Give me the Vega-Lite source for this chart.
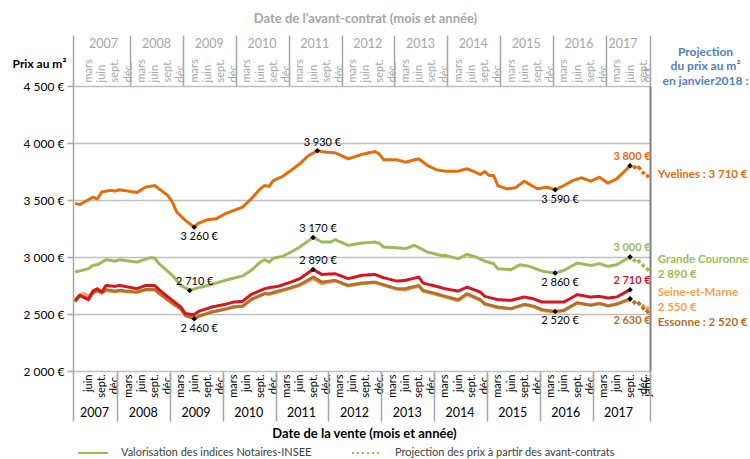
{
"$schema":"https://vega.github.io/schema/vega-lite/v6.json",
"width":577,"height":285,
"autosize":"none",
"padding":{"left":73,"top":86,"right":100,"bottom":88},
"background":"white",
"config":{"font":"Lato","view":{"stroke":null}},
"datasets":{
"series":[
{"date":"2007-03-01","serie":"Seine-et-Marne","prix":2610,"type":"V"},
{"date":"2007-04-01","serie":"Seine-et-Marne","prix":2670,"type":"V"},
{"date":"2007-05-01","serie":"Seine-et-Marne","prix":2680,"type":"V"},
{"date":"2007-06-01","serie":"Seine-et-Marne","prix":2660,"type":"V"},
{"date":"2007-07-01","serie":"Seine-et-Marne","prix":2680,"type":"V"},
{"date":"2007-08-01","serie":"Seine-et-Marne","prix":2700,"type":"V"},
{"date":"2007-09-01","serie":"Seine-et-Marne","prix":2690,"type":"V"},
{"date":"2007-10-01","serie":"Seine-et-Marne","prix":2705,"type":"V"},
{"date":"2007-12-01","serie":"Seine-et-Marne","prix":2695,"type":"V"},
{"date":"2008-01-01","serie":"Seine-et-Marne","prix":2700,"type":"V"},
{"date":"2008-05-01","serie":"Seine-et-Marne","prix":2690,"type":"V"},
{"date":"2008-07-01","serie":"Seine-et-Marne","prix":2710,"type":"V"},
{"date":"2008-09-01","serie":"Seine-et-Marne","prix":2712,"type":"V"},
{"date":"2008-10-01","serie":"Seine-et-Marne","prix":2680,"type":"V"},
{"date":"2009-01-01","serie":"Seine-et-Marne","prix":2590,"type":"V"},
{"date":"2009-03-01","serie":"Seine-et-Marne","prix":2540,"type":"V"},
{"date":"2009-04-01","serie":"Seine-et-Marne","prix":2485,"type":"V"},
{"date":"2009-06-01","serie":"Seine-et-Marne","prix":2462,"type":"V"},
{"date":"2009-07-01","serie":"Seine-et-Marne","prix":2480,"type":"V"},
{"date":"2009-10-01","serie":"Seine-et-Marne","prix":2520,"type":"V"},
{"date":"2010-01-01","serie":"Seine-et-Marne","prix":2545,"type":"V"},
{"date":"2010-03-01","serie":"Seine-et-Marne","prix":2565,"type":"V"},
{"date":"2010-05-01","serie":"Seine-et-Marne","prix":2570,"type":"V"},
{"date":"2010-07-01","serie":"Seine-et-Marne","prix":2630,"type":"V"},
{"date":"2010-10-01","serie":"Seine-et-Marne","prix":2680,"type":"V"},
{"date":"2010-11-01","serie":"Seine-et-Marne","prix":2670,"type":"V"},
{"date":"2011-01-01","serie":"Seine-et-Marne","prix":2690,"type":"V"},
{"date":"2011-04-01","serie":"Seine-et-Marne","prix":2725,"type":"V"},
{"date":"2011-06-01","serie":"Seine-et-Marne","prix":2750,"type":"V"},
{"date":"2011-09-01","serie":"Seine-et-Marne","prix":2810,"type":"V"},
{"date":"2011-11-01","serie":"Seine-et-Marne","prix":2765,"type":"V"},
{"date":"2012-02-01","serie":"Seine-et-Marne","prix":2790,"type":"V"},
{"date":"2012-05-01","serie":"Seine-et-Marne","prix":2745,"type":"V"},
{"date":"2012-08-01","serie":"Seine-et-Marne","prix":2765,"type":"V"},
{"date":"2012-11-01","serie":"Seine-et-Marne","prix":2775,"type":"V"},
{"date":"2013-01-01","serie":"Seine-et-Marne","prix":2750,"type":"V"},
{"date":"2013-04-01","serie":"Seine-et-Marne","prix":2720,"type":"V"},
{"date":"2013-06-01","serie":"Seine-et-Marne","prix":2710,"type":"V"},
{"date":"2013-09-01","serie":"Seine-et-Marne","prix":2745,"type":"V"},
{"date":"2013-10-01","serie":"Seine-et-Marne","prix":2700,"type":"V"},
{"date":"2014-01-01","serie":"Seine-et-Marne","prix":2670,"type":"V"},
{"date":"2014-03-01","serie":"Seine-et-Marne","prix":2650,"type":"V"},
{"date":"2014-06-01","serie":"Seine-et-Marne","prix":2615,"type":"V"},
{"date":"2014-08-01","serie":"Seine-et-Marne","prix":2670,"type":"V"},
{"date":"2014-11-01","serie":"Seine-et-Marne","prix":2620,"type":"V"},
{"date":"2014-12-01","serie":"Seine-et-Marne","prix":2585,"type":"V"},
{"date":"2015-03-01","serie":"Seine-et-Marne","prix":2555,"type":"V"},
{"date":"2015-06-01","serie":"Seine-et-Marne","prix":2545,"type":"V"},
{"date":"2015-09-01","serie":"Seine-et-Marne","prix":2580,"type":"V"},
{"date":"2015-11-01","serie":"Seine-et-Marne","prix":2565,"type":"V"},
{"date":"2016-01-01","serie":"Seine-et-Marne","prix":2530,"type":"V"},
{"date":"2016-04-01","serie":"Seine-et-Marne","prix":2515,"type":"V"},
{"date":"2016-06-01","serie":"Seine-et-Marne","prix":2530,"type":"V"},
{"date":"2016-09-01","serie":"Seine-et-Marne","prix":2595,"type":"V"},
{"date":"2016-12-01","serie":"Seine-et-Marne","prix":2580,"type":"V"},
{"date":"2017-02-01","serie":"Seine-et-Marne","prix":2595,"type":"V"},
{"date":"2017-04-01","serie":"Seine-et-Marne","prix":2575,"type":"V"},
{"date":"2017-06-01","serie":"Seine-et-Marne","prix":2590,"type":"V"},
{"date":"2017-09-01","serie":"Seine-et-Marne","prix":2625,"type":"V"},
{"date":"2007-03-01","serie":"Essonne","prix":2605,"type":"V"},
{"date":"2007-04-01","serie":"Essonne","prix":2663,"type":"V"},
{"date":"2007-06-01","serie":"Essonne","prix":2634,"type":"V"},
{"date":"2007-07-01","serie":"Essonne","prix":2684,"type":"V"},
{"date":"2007-08-01","serie":"Essonne","prix":2707,"type":"V"},
{"date":"2007-09-01","serie":"Essonne","prix":2684,"type":"V"},
{"date":"2007-10-01","serie":"Essonne","prix":2713,"type":"V"},
{"date":"2007-12-01","serie":"Essonne","prix":2701,"type":"V"},
{"date":"2008-01-01","serie":"Essonne","prix":2707,"type":"V"},
{"date":"2008-05-01","serie":"Essonne","prix":2692,"type":"V"},
{"date":"2008-07-01","serie":"Essonne","prix":2716,"type":"V"},
{"date":"2008-09-01","serie":"Essonne","prix":2716,"type":"V"},
{"date":"2008-10-01","serie":"Essonne","prix":2684,"type":"V"},
{"date":"2009-01-01","serie":"Essonne","prix":2596,"type":"V"},
{"date":"2009-03-01","serie":"Essonne","prix":2547,"type":"V"},
{"date":"2009-04-01","serie":"Essonne","prix":2488,"type":"V"},
{"date":"2009-06-01","serie":"Essonne","prix":2459,"type":"V"},
{"date":"2009-07-01","serie":"Essonne","prix":2479,"type":"V"},
{"date":"2009-10-01","serie":"Essonne","prix":2517,"type":"V"},
{"date":"2010-01-01","serie":"Essonne","prix":2541,"type":"V"},
{"date":"2010-03-01","serie":"Essonne","prix":2561,"type":"V"},
{"date":"2010-05-01","serie":"Essonne","prix":2567,"type":"V"},
{"date":"2010-07-01","serie":"Essonne","prix":2626,"type":"V"},
{"date":"2010-10-01","serie":"Essonne","prix":2678,"type":"V"},
{"date":"2010-11-01","serie":"Essonne","prix":2678,"type":"V"},
{"date":"2011-01-01","serie":"Essonne","prix":2701,"type":"V"},
{"date":"2011-04-01","serie":"Essonne","prix":2731,"type":"V"},
{"date":"2011-06-01","serie":"Essonne","prix":2757,"type":"V"},
{"date":"2011-09-01","serie":"Essonne","prix":2824,"type":"V"},
{"date":"2011-11-01","serie":"Essonne","prix":2780,"type":"V"},
{"date":"2012-02-01","serie":"Essonne","prix":2795,"type":"V"},
{"date":"2012-05-01","serie":"Essonne","prix":2751,"type":"V"},
{"date":"2012-08-01","serie":"Essonne","prix":2771,"type":"V"},
{"date":"2012-11-01","serie":"Essonne","prix":2780,"type":"V"},
{"date":"2013-01-01","serie":"Essonne","prix":2757,"type":"V"},
{"date":"2013-04-01","serie":"Essonne","prix":2722,"type":"V"},
{"date":"2013-06-01","serie":"Essonne","prix":2722,"type":"V"},
{"date":"2013-09-01","serie":"Essonne","prix":2751,"type":"V"},
{"date":"2013-10-01","serie":"Essonne","prix":2707,"type":"V"},
{"date":"2014-01-01","serie":"Essonne","prix":2678,"type":"V"},
{"date":"2014-03-01","serie":"Essonne","prix":2655,"type":"V"},
{"date":"2014-06-01","serie":"Essonne","prix":2626,"type":"V"},
{"date":"2014-08-01","serie":"Essonne","prix":2678,"type":"V"},
{"date":"2014-11-01","serie":"Essonne","prix":2626,"type":"V"},
{"date":"2014-12-01","serie":"Essonne","prix":2591,"type":"V"},
{"date":"2015-03-01","serie":"Essonne","prix":2561,"type":"V"},
{"date":"2015-06-01","serie":"Essonne","prix":2547,"type":"V"},
{"date":"2015-09-01","serie":"Essonne","prix":2585,"type":"V"},
{"date":"2015-11-01","serie":"Essonne","prix":2570,"type":"V"},
{"date":"2016-01-01","serie":"Essonne","prix":2538,"type":"V"},
{"date":"2016-04-01","serie":"Essonne","prix":2523,"type":"V"},
{"date":"2016-06-01","serie":"Essonne","prix":2532,"type":"V"},
{"date":"2016-09-01","serie":"Essonne","prix":2599,"type":"V"},
{"date":"2016-12-01","serie":"Essonne","prix":2576,"type":"V"},
{"date":"2017-02-01","serie":"Essonne","prix":2591,"type":"V"},
{"date":"2017-04-01","serie":"Essonne","prix":2570,"type":"V"},
{"date":"2017-06-01","serie":"Essonne","prix":2585,"type":"V"},
{"date":"2017-09-01","serie":"Essonne","prix":2634,"type":"V"},
{"date":"2007-03-01","serie":"Val-d'Oise","prix":2620,"type":"V"},
{"date":"2007-04-01","serie":"Val-d'Oise","prix":2663,"type":"V"},
{"date":"2007-06-01","serie":"Val-d'Oise","prix":2626,"type":"V"},
{"date":"2007-07-01","serie":"Val-d'Oise","prix":2701,"type":"V"},
{"date":"2007-08-01","serie":"Val-d'Oise","prix":2722,"type":"V"},
{"date":"2007-09-01","serie":"Val-d'Oise","prix":2692,"type":"V"},
{"date":"2007-10-01","serie":"Val-d'Oise","prix":2751,"type":"V"},
{"date":"2007-12-01","serie":"Val-d'Oise","prix":2742,"type":"V"},
{"date":"2008-01-01","serie":"Val-d'Oise","prix":2751,"type":"V"},
{"date":"2008-05-01","serie":"Val-d'Oise","prix":2722,"type":"V"},
{"date":"2008-07-01","serie":"Val-d'Oise","prix":2751,"type":"V"},
{"date":"2008-09-01","serie":"Val-d'Oise","prix":2751,"type":"V"},
{"date":"2008-10-01","serie":"Val-d'Oise","prix":2713,"type":"V"},
{"date":"2009-01-01","serie":"Val-d'Oise","prix":2620,"type":"V"},
{"date":"2009-03-01","serie":"Val-d'Oise","prix":2561,"type":"V"},
{"date":"2009-04-01","serie":"Val-d'Oise","prix":2503,"type":"V"},
{"date":"2009-06-01","serie":"Val-d'Oise","prix":2494,"type":"V"},
{"date":"2009-07-01","serie":"Val-d'Oise","prix":2523,"type":"V"},
{"date":"2009-10-01","serie":"Val-d'Oise","prix":2561,"type":"V"},
{"date":"2010-01-01","serie":"Val-d'Oise","prix":2585,"type":"V"},
{"date":"2010-03-01","serie":"Val-d'Oise","prix":2605,"type":"V"},
{"date":"2010-05-01","serie":"Val-d'Oise","prix":2611,"type":"V"},
{"date":"2010-07-01","serie":"Val-d'Oise","prix":2672,"type":"V"},
{"date":"2010-10-01","serie":"Val-d'Oise","prix":2722,"type":"V"},
{"date":"2010-11-01","serie":"Val-d'Oise","prix":2731,"type":"V"},
{"date":"2011-01-01","serie":"Val-d'Oise","prix":2742,"type":"V"},
{"date":"2011-04-01","serie":"Val-d'Oise","prix":2780,"type":"V"},
{"date":"2011-06-01","serie":"Val-d'Oise","prix":2810,"type":"V"},
{"date":"2011-09-01","serie":"Val-d'Oise","prix":2891,"type":"V"},
{"date":"2011-11-01","serie":"Val-d'Oise","prix":2847,"type":"V"},
{"date":"2012-02-01","serie":"Val-d'Oise","prix":2853,"type":"V"},
{"date":"2012-05-01","serie":"Val-d'Oise","prix":2810,"type":"V"},
{"date":"2012-08-01","serie":"Val-d'Oise","prix":2839,"type":"V"},
{"date":"2012-11-01","serie":"Val-d'Oise","prix":2847,"type":"V"},
{"date":"2013-01-01","serie":"Val-d'Oise","prix":2818,"type":"V"},
{"date":"2013-04-01","serie":"Val-d'Oise","prix":2789,"type":"V"},
{"date":"2013-06-01","serie":"Val-d'Oise","prix":2795,"type":"V"},
{"date":"2013-09-01","serie":"Val-d'Oise","prix":2824,"type":"V"},
{"date":"2013-10-01","serie":"Val-d'Oise","prix":2771,"type":"V"},
{"date":"2014-01-01","serie":"Val-d'Oise","prix":2742,"type":"V"},
{"date":"2014-03-01","serie":"Val-d'Oise","prix":2722,"type":"V"},
{"date":"2014-06-01","serie":"Val-d'Oise","prix":2701,"type":"V"},
{"date":"2014-08-01","serie":"Val-d'Oise","prix":2736,"type":"V"},
{"date":"2014-11-01","serie":"Val-d'Oise","prix":2692,"type":"V"},
{"date":"2014-12-01","serie":"Val-d'Oise","prix":2655,"type":"V"},
{"date":"2015-03-01","serie":"Val-d'Oise","prix":2626,"type":"V"},
{"date":"2015-06-01","serie":"Val-d'Oise","prix":2620,"type":"V"},
{"date":"2015-09-01","serie":"Val-d'Oise","prix":2649,"type":"V"},
{"date":"2015-11-01","serie":"Val-d'Oise","prix":2634,"type":"V"},
{"date":"2016-01-01","serie":"Val-d'Oise","prix":2605,"type":"V"},
{"date":"2016-04-01","serie":"Val-d'Oise","prix":2605,"type":"V"},
{"date":"2016-06-01","serie":"Val-d'Oise","prix":2605,"type":"V"},
{"date":"2016-09-01","serie":"Val-d'Oise","prix":2670,"type":"V"},
{"date":"2016-12-01","serie":"Val-d'Oise","prix":2649,"type":"V"},
{"date":"2017-02-01","serie":"Val-d'Oise","prix":2655,"type":"V"},
{"date":"2017-04-01","serie":"Val-d'Oise","prix":2640,"type":"V"},
{"date":"2017-06-01","serie":"Val-d'Oise","prix":2649,"type":"V"},
{"date":"2017-09-01","serie":"Val-d'Oise","prix":2713,"type":"V"},
{"date":"2007-03-01","serie":"Grande Couronne","prix":2868,"type":"V"},
{"date":"2007-06-01","serie":"Grande Couronne","prix":2897,"type":"V"},
{"date":"2007-07-01","serie":"Grande Couronne","prix":2926,"type":"V"},
{"date":"2007-08-01","serie":"Grande Couronne","prix":2932,"type":"V"},
{"date":"2007-10-01","serie":"Grande Couronne","prix":2976,"type":"V"},
{"date":"2007-12-01","serie":"Grande Couronne","prix":2964,"type":"V"},
{"date":"2008-01-01","serie":"Grande Couronne","prix":2976,"type":"V"},
{"date":"2008-05-01","serie":"Grande Couronne","prix":2955,"type":"V"},
{"date":"2008-08-01","serie":"Grande Couronne","prix":2994,"type":"V"},
{"date":"2008-09-01","serie":"Grande Couronne","prix":2990,"type":"V"},
{"date":"2008-10-01","serie":"Grande Couronne","prix":2941,"type":"V"},
{"date":"2009-01-01","serie":"Grande Couronne","prix":2839,"type":"V"},
{"date":"2009-03-01","serie":"Grande Couronne","prix":2751,"type":"V"},
{"date":"2009-05-01","serie":"Grande Couronne","prix":2707,"type":"V"},
{"date":"2009-07-01","serie":"Grande Couronne","prix":2731,"type":"V"},
{"date":"2009-10-01","serie":"Grande Couronne","prix":2760,"type":"V"},
{"date":"2010-01-01","serie":"Grande Couronne","prix":2795,"type":"V"},
{"date":"2010-03-01","serie":"Grande Couronne","prix":2815,"type":"V"},
{"date":"2010-05-01","serie":"Grande Couronne","prix":2833,"type":"V"},
{"date":"2010-07-01","serie":"Grande Couronne","prix":2883,"type":"V"},
{"date":"2010-09-01","serie":"Grande Couronne","prix":2955,"type":"V"},
{"date":"2010-10-01","serie":"Grande Couronne","prix":2976,"type":"V"},
{"date":"2010-11-01","serie":"Grande Couronne","prix":2955,"type":"V"},
{"date":"2010-12-01","serie":"Grande Couronne","prix":2990,"type":"V"},
{"date":"2011-02-01","serie":"Grande Couronne","prix":3005,"type":"V"},
{"date":"2011-04-01","serie":"Grande Couronne","prix":3043,"type":"V"},
{"date":"2011-06-01","serie":"Grande Couronne","prix":3087,"type":"V"},
{"date":"2011-09-01","serie":"Grande Couronne","prix":3172,"type":"V"},
{"date":"2011-11-01","serie":"Grande Couronne","prix":3131,"type":"V"},
{"date":"2012-01-01","serie":"Grande Couronne","prix":3131,"type":"V"},
{"date":"2012-02-01","serie":"Grande Couronne","prix":3152,"type":"V"},
{"date":"2012-05-01","serie":"Grande Couronne","prix":3102,"type":"V"},
{"date":"2012-08-01","serie":"Grande Couronne","prix":3122,"type":"V"},
{"date":"2012-11-01","serie":"Grande Couronne","prix":3131,"type":"V"},
{"date":"2012-12-01","serie":"Grande Couronne","prix":3122,"type":"V"},
{"date":"2013-01-01","serie":"Grande Couronne","prix":3087,"type":"V"},
{"date":"2013-04-01","serie":"Grande Couronne","prix":3081,"type":"V"},
{"date":"2013-06-01","serie":"Grande Couronne","prix":3073,"type":"V"},
{"date":"2013-08-01","serie":"Grande Couronne","prix":3102,"type":"V"},
{"date":"2013-11-01","serie":"Grande Couronne","prix":3043,"type":"V"},
{"date":"2014-02-01","serie":"Grande Couronne","prix":3014,"type":"V"},
{"date":"2014-03-01","serie":"Grande Couronne","prix":3014,"type":"V"},
{"date":"2014-06-01","serie":"Grande Couronne","prix":2985,"type":"V"},
{"date":"2014-08-01","serie":"Grande Couronne","prix":3023,"type":"V"},
{"date":"2014-10-01","serie":"Grande Couronne","prix":2999,"type":"V"},
{"date":"2014-12-01","serie":"Grande Couronne","prix":2964,"type":"V"},
{"date":"2015-02-01","serie":"Grande Couronne","prix":2941,"type":"V"},
{"date":"2015-03-01","serie":"Grande Couronne","prix":2897,"type":"V"},
{"date":"2015-06-01","serie":"Grande Couronne","prix":2889,"type":"V"},
{"date":"2015-08-01","serie":"Grande Couronne","prix":2932,"type":"V"},
{"date":"2015-10-01","serie":"Grande Couronne","prix":2920,"type":"V"},
{"date":"2016-01-01","serie":"Grande Couronne","prix":2876,"type":"V"},
{"date":"2016-04-01","serie":"Grande Couronne","prix":2859,"type":"V"},
{"date":"2016-06-01","serie":"Grande Couronne","prix":2883,"type":"V"},
{"date":"2016-09-01","serie":"Grande Couronne","prix":2947,"type":"V"},
{"date":"2016-12-01","serie":"Grande Couronne","prix":2926,"type":"V"},
{"date":"2017-02-01","serie":"Grande Couronne","prix":2941,"type":"V"},
{"date":"2017-04-01","serie":"Grande Couronne","prix":2918,"type":"V"},
{"date":"2017-06-01","serie":"Grande Couronne","prix":2932,"type":"V"},
{"date":"2017-09-01","serie":"Grande Couronne","prix":3000,"type":"V"},
{"date":"2007-03-01","serie":"Yvelines","prix":3470,"type":"V"},
{"date":"2007-04-01","serie":"Yvelines","prix":3460,"type":"V"},
{"date":"2007-05-01","serie":"Yvelines","prix":3480,"type":"V"},
{"date":"2007-07-01","serie":"Yvelines","prix":3525,"type":"V"},
{"date":"2007-08-01","serie":"Yvelines","prix":3510,"type":"V"},
{"date":"2007-09-01","serie":"Yvelines","prix":3570,"type":"V"},
{"date":"2007-11-01","serie":"Yvelines","prix":3585,"type":"V"},
{"date":"2007-12-01","serie":"Yvelines","prix":3578,"type":"V"},
{"date":"2008-01-01","serie":"Yvelines","prix":3590,"type":"V"},
{"date":"2008-03-01","serie":"Yvelines","prix":3578,"type":"V"},
{"date":"2008-05-01","serie":"Yvelines","prix":3566,"type":"V"},
{"date":"2008-07-01","serie":"Yvelines","prix":3613,"type":"V"},
{"date":"2008-09-01","serie":"Yvelines","prix":3627,"type":"V"},
{"date":"2008-10-01","serie":"Yvelines","prix":3598,"type":"V"},
{"date":"2008-12-01","serie":"Yvelines","prix":3540,"type":"V"},
{"date":"2009-01-01","serie":"Yvelines","prix":3481,"type":"V"},
{"date":"2009-02-01","serie":"Yvelines","prix":3393,"type":"V"},
{"date":"2009-04-01","serie":"Yvelines","prix":3321,"type":"V"},
{"date":"2009-06-01","serie":"Yvelines","prix":3262,"type":"V"},
{"date":"2009-07-01","serie":"Yvelines","prix":3297,"type":"V"},
{"date":"2009-09-01","serie":"Yvelines","prix":3327,"type":"V"},
{"date":"2009-11-01","serie":"Yvelines","prix":3336,"type":"V"},
{"date":"2010-01-01","serie":"Yvelines","prix":3379,"type":"V"},
{"date":"2010-03-01","serie":"Yvelines","prix":3408,"type":"V"},
{"date":"2010-05-01","serie":"Yvelines","prix":3437,"type":"V"},
{"date":"2010-07-01","serie":"Yvelines","prix":3511,"type":"V"},
{"date":"2010-09-01","serie":"Yvelines","prix":3598,"type":"V"},
{"date":"2010-10-01","serie":"Yvelines","prix":3627,"type":"V"},
{"date":"2010-11-01","serie":"Yvelines","prix":3619,"type":"V"},
{"date":"2010-12-01","serie":"Yvelines","prix":3671,"type":"V"},
{"date":"2011-02-01","serie":"Yvelines","prix":3706,"type":"V"},
{"date":"2011-04-01","serie":"Yvelines","prix":3759,"type":"V"},
{"date":"2011-06-01","serie":"Yvelines","prix":3818,"type":"V"},
{"date":"2011-08-01","serie":"Yvelines","prix":3890,"type":"V"},
{"date":"2011-10-01","serie":"Yvelines","prix":3932,"type":"V"},
{"date":"2011-12-01","serie":"Yvelines","prix":3919,"type":"V"},
{"date":"2012-02-01","serie":"Yvelines","prix":3914,"type":"V"},
{"date":"2012-05-01","serie":"Yvelines","prix":3861,"type":"V"},
{"date":"2012-08-01","serie":"Yvelines","prix":3899,"type":"V"},
{"date":"2012-11-01","serie":"Yvelines","prix":3925,"type":"V"},
{"date":"2012-12-01","serie":"Yvelines","prix":3905,"type":"V"},
{"date":"2013-01-01","serie":"Yvelines","prix":3853,"type":"V"},
{"date":"2013-04-01","serie":"Yvelines","prix":3853,"type":"V"},
{"date":"2013-06-01","serie":"Yvelines","prix":3832,"type":"V"},
{"date":"2013-09-01","serie":"Yvelines","prix":3861,"type":"V"},
{"date":"2013-11-01","serie":"Yvelines","prix":3803,"type":"V"},
{"date":"2014-01-01","serie":"Yvelines","prix":3765,"type":"V"},
{"date":"2014-03-01","serie":"Yvelines","prix":3753,"type":"V"},
{"date":"2014-06-01","serie":"Yvelines","prix":3753,"type":"V"},
{"date":"2014-08-01","serie":"Yvelines","prix":3774,"type":"V"},
{"date":"2014-09-01","serie":"Yvelines","prix":3759,"type":"V"},
{"date":"2014-11-01","serie":"Yvelines","prix":3724,"type":"V"},
{"date":"2014-12-01","serie":"Yvelines","prix":3750,"type":"V"},
{"date":"2015-01-01","serie":"Yvelines","prix":3715,"type":"V"},
{"date":"2015-02-01","serie":"Yvelines","prix":3715,"type":"V"},
{"date":"2015-03-01","serie":"Yvelines","prix":3627,"type":"V"},
{"date":"2015-05-01","serie":"Yvelines","prix":3598,"type":"V"},
{"date":"2015-07-01","serie":"Yvelines","prix":3607,"type":"V"},
{"date":"2015-09-01","serie":"Yvelines","prix":3665,"type":"V"},
{"date":"2015-10-01","serie":"Yvelines","prix":3642,"type":"V"},
{"date":"2015-12-01","serie":"Yvelines","prix":3598,"type":"V"},
{"date":"2016-02-01","serie":"Yvelines","prix":3613,"type":"V"},
{"date":"2016-04-01","serie":"Yvelines","prix":3590,"type":"V"},
{"date":"2016-06-01","serie":"Yvelines","prix":3627,"type":"V"},
{"date":"2016-08-01","serie":"Yvelines","prix":3671,"type":"V"},
{"date":"2016-10-01","serie":"Yvelines","prix":3695,"type":"V"},
{"date":"2016-12-01","serie":"Yvelines","prix":3665,"type":"V"},
{"date":"2017-02-01","serie":"Yvelines","prix":3700,"type":"V"},
{"date":"2017-04-01","serie":"Yvelines","prix":3648,"type":"V"},
{"date":"2017-06-01","serie":"Yvelines","prix":3686,"type":"V"},
{"date":"2017-09-01","serie":"Yvelines","prix":3800,"type":"V"},
{"date":"2017-09-01","serie":"Seine-et-Marne","prix":2625,"type":"P"},
{"date":"2017-10-01","serie":"Seine-et-Marne","prix":2605,"type":"P"},
{"date":"2017-11-01","serie":"Seine-et-Marne","prix":2595,"type":"P"},
{"date":"2017-12-01","serie":"Seine-et-Marne","prix":2570,"type":"P"},
{"date":"2018-01-01","serie":"Seine-et-Marne","prix":2550,"type":"P"},
{"date":"2017-09-01","serie":"Essonne","prix":2634,"type":"P"},
{"date":"2017-10-01","serie":"Essonne","prix":2600,"type":"P"},
{"date":"2017-11-01","serie":"Essonne","prix":2592,"type":"P"},
{"date":"2017-12-01","serie":"Essonne","prix":2550,"type":"P"},
{"date":"2018-01-01","serie":"Essonne","prix":2520,"type":"P"},
{"date":"2017-09-01","serie":"Grande Couronne","prix":3000,"type":"P"},
{"date":"2017-10-01","serie":"Grande Couronne","prix":2970,"type":"P"},
{"date":"2017-11-01","serie":"Grande Couronne","prix":2962,"type":"P"},
{"date":"2017-12-01","serie":"Grande Couronne","prix":2925,"type":"P"},
{"date":"2018-01-01","serie":"Grande Couronne","prix":2890,"type":"P"},
{"date":"2017-09-01","serie":"Yvelines","prix":3800,"type":"P"},
{"date":"2017-10-01","serie":"Yvelines","prix":3788,"type":"P"},
{"date":"2017-11-01","serie":"Yvelines","prix":3785,"type":"P"},
{"date":"2017-12-01","serie":"Yvelines","prix":3738,"type":"P"},
{"date":"2018-01-01","serie":"Yvelines","prix":3710,"type":"P"}
],
"annotations":[
{"date":"2009-06-01","serie":"Yvelines","prix":3262,"label":"3 260 €","pos":"bas","groupe":"ext"},
{"date":"2011-10-01","serie":"Yvelines","prix":3932,"label":"3 930 €","pos":"haut","groupe":"ext"},
{"date":"2016-04-01","serie":"Yvelines","prix":3590,"label":"3 590 €","pos":"bas","groupe":"ext"},
{"date":"2017-09-01","serie":"Yvelines","prix":3800,"label":"3 800 €","pos":"haut","groupe":"fin"},
{"date":"2009-05-01","serie":"Grande Couronne","prix":2707,"label":"2 710 €","pos":"haut","groupe":"ext"},
{"date":"2011-09-01","serie":"Grande Couronne","prix":3172,"label":"3 170 €","pos":"haut","groupe":"ext"},
{"date":"2016-04-01","serie":"Grande Couronne","prix":2859,"label":"2 860 €","pos":"bas","groupe":"ext"},
{"date":"2017-09-01","serie":"Grande Couronne","prix":3000,"label":"3 000 €","pos":"haut","groupe":"fin"},
{"date":"2011-09-01","serie":"Val-d'Oise","prix":2891,"label":"2 890 €","pos":"haut","groupe":"ext"},
{"date":"2017-09-01","serie":"Val-d'Oise","prix":2713,"label":"2 710 €","pos":"haut","groupe":"fin"},
{"date":"2009-06-01","serie":"Essonne","prix":2459,"label":"2 460 €","pos":"bas","groupe":"ext"},
{"date":"2016-04-01","serie":"Essonne","prix":2523,"label":"2 520 €","pos":"bas","groupe":"ext"},
{"date":"2017-09-01","serie":"Essonne","prix":2634,"label":"2 630 €","pos":"bas","groupe":"fin"}
],
"etiquettes":[
{"date":"2018-01-01","serie":"Yvelines","prix":3710,"texte":"Yvelines : 3 710 €"},
{"date":"2018-01-01","serie":"Grande Couronne","prix":2890,"texte":"Grande Couronne\n2 890 €"},
{"date":"2018-01-01","serie":"Seine-et-Marne","prix":2550,"texte":"Seine-et-Marne\n2 550 €"},
{"date":"2018-01-01","serie":"Essonne","prix":2520,"texte":"Essonne : 2 520 €"}
]
},
"resolve":{"axis":{"x":"independent","y":"independent"}},
"layer":[
{
"data":{"name":"series"},
"mark":{"type":"line","strokeWidth":3,"strokeJoin":"round"},
"encoding":{
"x":{"field":"date","type":"temporal","scale":{"type":"utc","domain":[{"year":2007,"month":2,"date":14,"utc":true},{"year":2018,"month":1,"date":17,"utc":true}]},
"axis":{"orient":"bottom","title":null,"domain":false,"ticks":false,"grid":false,"labelAngle":-90,"labelAlign":"right","labelBaseline":"middle","labelPadding":3,"labelFontSize":11,"labelColor":"#000000","labelOverlap":false,"labelFlush":false,
"labelExpr":"utcmonth(datum.value) == 2 ? 'mars' : utcmonth(datum.value) == 5 ? 'juin' : utcmonth(datum.value) == 8 ? 'sept.' : utcmonth(datum.value) == 11 ? 'déc.' : 'janv.'",
"values":[{"year":2007,"month":6,"utc":true},{"year":2007,"month":9,"utc":true},{"year":2007,"month":12,"utc":true},
{"year":2008,"month":3,"utc":true},{"year":2008,"month":6,"utc":true},{"year":2008,"month":9,"utc":true},{"year":2008,"month":12,"utc":true},
{"year":2009,"month":3,"utc":true},{"year":2009,"month":6,"utc":true},{"year":2009,"month":9,"utc":true},{"year":2009,"month":12,"utc":true},
{"year":2010,"month":3,"utc":true},{"year":2010,"month":6,"utc":true},{"year":2010,"month":9,"utc":true},{"year":2010,"month":12,"utc":true},
{"year":2011,"month":3,"utc":true},{"year":2011,"month":6,"utc":true},{"year":2011,"month":9,"utc":true},{"year":2011,"month":12,"utc":true},
{"year":2012,"month":3,"utc":true},{"year":2012,"month":6,"utc":true},{"year":2012,"month":9,"utc":true},{"year":2012,"month":12,"utc":true},
{"year":2013,"month":3,"utc":true},{"year":2013,"month":6,"utc":true},{"year":2013,"month":9,"utc":true},{"year":2013,"month":12,"utc":true},
{"year":2014,"month":3,"utc":true},{"year":2014,"month":6,"utc":true},{"year":2014,"month":9,"utc":true},{"year":2014,"month":12,"utc":true},
{"year":2015,"month":3,"utc":true},{"year":2015,"month":6,"utc":true},{"year":2015,"month":9,"utc":true},{"year":2015,"month":12,"utc":true},
{"year":2016,"month":3,"utc":true},{"year":2016,"month":6,"utc":true},{"year":2016,"month":9,"utc":true},{"year":2016,"month":12,"utc":true},
{"year":2017,"month":3,"utc":true},{"year":2017,"month":6,"utc":true},{"year":2017,"month":9,"utc":true},{"year":2017,"month":12,"utc":true},
{"year":2018,"month":1,"utc":true}]}},
"y":{"field":"prix","type":"quantitative","scale":{"domain":[2000,4500],"nice":false,"zero":false},
"axis":{"orient":"left","values":[2000,2500,3000,3500,4000,4500],"grid":true,"gridColor":"#bfbfbf","gridWidth":1.5,"domain":true,"domainColor":"#a6a6a6","domainWidth":1.5,"ticks":true,"tickSize":6,"tickColor":"#a6a6a6","tickWidth":1.5,"labelExpr":"replace(format(datum.value, ','), ',', ' ') + ' €'","labelFontSize":12,"labelColor":"#000000","labelPadding":3,
"title":"Prix au m²","titleAngle":0,"titleX":-34,"titleY":-23,"titleAlign":"center","titleBaseline":"middle","titleFontWeight":"bold","titleFontSize":12,"titleColor":"#000000"}},
"color":{"field":"serie","type":"nominal","legend":null,"scale":{"domain":["Seine-et-Marne","Essonne","Val-d'Oise","Grande Couronne","Yvelines"],"range":["#F6A04D","#B3702A","#D7151F","#9BBB59","#E46C0A"]}},
"strokeDash":{"field":"type","type":"nominal","scale":{"domain":["V","P"],"range":[[1,0],[2,3]]},
"legend":{"orient":"none","legendX":4,"legendY":351,"direction":"horizontal","columns":2,"columnPadding":36,"title":null,"symbolType":"stroke","symbolSize":900,"symbolStrokeWidth":2,"symbolStrokeColor":"#9BBB59","labelOffset":12,"labelFontSize":11,"labelColor":"#404040","labelLimit":400,
"labelExpr":"datum.value == 'V' ? 'Valorisation des indices Notaires-INSEE' : 'Projection des prix à partir des avant-contrats'"}}
}
},
{
"data":{"name":"series"},
"transform":[{"filter":"datum.type == 'P'"}],
"mark":{"type":"point","shape":"diamond","filled":true,"size":24,"opacity":1},
"encoding":{
"x":{"field":"date","type":"temporal","scale":{"type":"utc"},
"axis":{"orient":"bottom","title":"Date de la vente (mois et année)","titleX":291,"titleY":62,"titleBaseline":"middle","titleFontSize":13,"titleFontWeight":"bold","titleColor":"#000000",
"domain":false,"grid":false,"ticks":true,"tickSize":50,"tickColor":"#a6a6a6","tickWidth":1.5,
"tickOpacity":{"condition":{"test":"utcdate(datum.value) != 10","value":1},"value":0},
"labelPadding":-9,"labelAngle":0,"labelAlign":"center","labelBaseline":"middle","labelFontSize":12.5,"labelColor":"#000000","labelOverlap":false,"labelFlush":false,
"labelExpr":"utcdate(datum.value) == 10 ? utcFormat(datum.value, '%Y') : ''",
"values":[{"year":2007,"month":2,"date":14,"utc":true},{"year":2007,"month":7,"date":10,"utc":true},{"year":2007,"month":12,"date":16,"utc":true},
{"year":2008,"month":6,"date":10,"utc":true},{"year":2008,"month":12,"date":16,"utc":true},
{"year":2009,"month":6,"date":10,"utc":true},{"year":2009,"month":12,"date":16,"utc":true},
{"year":2010,"month":6,"date":10,"utc":true},{"year":2010,"month":12,"date":16,"utc":true},
{"year":2011,"month":6,"date":10,"utc":true},{"year":2011,"month":12,"date":16,"utc":true},
{"year":2012,"month":6,"date":10,"utc":true},{"year":2012,"month":12,"date":16,"utc":true},
{"year":2013,"month":6,"date":10,"utc":true},{"year":2013,"month":12,"date":16,"utc":true},
{"year":2014,"month":6,"date":10,"utc":true},{"year":2014,"month":12,"date":16,"utc":true},
{"year":2015,"month":6,"date":10,"utc":true},{"year":2015,"month":12,"date":16,"utc":true},
{"year":2016,"month":6,"date":10,"utc":true},{"year":2016,"month":12,"date":16,"utc":true},
{"year":2017,"month":6,"date":10,"utc":true},{"year":2018,"month":1,"date":17,"utc":true}]}},
"y":{"field":"prix","type":"quantitative","axis":null},
"color":{"field":"serie","type":"nominal","legend":null}
}
},
{
"data":{"name":"annotations"},
"mark":{"type":"point","shape":"diamond","filled":true,"size":30,"color":"#000000","opacity":1},
"encoding":{
"x":{"field":"date","type":"temporal","scale":{"type":"utc"},
"axis":{"orient":"top","title":null,"domain":false,"ticks":false,"grid":false,"labelAngle":-90,"labelAlign":"left","labelBaseline":"middle","labelPadding":4,"labelFontSize":11,"labelColor":"#a6a6a6","labelOverlap":false,"labelFlush":false,
"labelExpr":"utcmonth(datum.value) == 5 ? 'mars' : utcmonth(datum.value) == 8 ? 'juin' : utcmonth(datum.value) == 11 ? 'sept.' : utcmonth(datum.value) == 2 ? 'déc.' : 'oct.'",
"values":[{"year":2007,"month":6,"utc":true},{"year":2007,"month":9,"utc":true},{"year":2007,"month":12,"utc":true},
{"year":2008,"month":3,"utc":true},{"year":2008,"month":6,"utc":true},{"year":2008,"month":9,"utc":true},{"year":2008,"month":12,"utc":true},
{"year":2009,"month":3,"utc":true},{"year":2009,"month":6,"utc":true},{"year":2009,"month":9,"utc":true},{"year":2009,"month":12,"utc":true},
{"year":2010,"month":3,"utc":true},{"year":2010,"month":6,"utc":true},{"year":2010,"month":9,"utc":true},{"year":2010,"month":12,"utc":true},
{"year":2011,"month":3,"utc":true},{"year":2011,"month":6,"utc":true},{"year":2011,"month":9,"utc":true},{"year":2011,"month":12,"utc":true},
{"year":2012,"month":3,"utc":true},{"year":2012,"month":6,"utc":true},{"year":2012,"month":9,"utc":true},{"year":2012,"month":12,"utc":true},
{"year":2013,"month":3,"utc":true},{"year":2013,"month":6,"utc":true},{"year":2013,"month":9,"utc":true},{"year":2013,"month":12,"utc":true},
{"year":2014,"month":3,"utc":true},{"year":2014,"month":6,"utc":true},{"year":2014,"month":9,"utc":true},{"year":2014,"month":12,"utc":true},
{"year":2015,"month":3,"utc":true},{"year":2015,"month":6,"utc":true},{"year":2015,"month":9,"utc":true},{"year":2015,"month":12,"utc":true},
{"year":2016,"month":3,"utc":true},{"year":2016,"month":6,"utc":true},{"year":2016,"month":9,"utc":true},{"year":2016,"month":12,"utc":true},
{"year":2017,"month":3,"utc":true},{"year":2017,"month":6,"utc":true},{"year":2017,"month":9,"utc":true},{"year":2017,"month":12,"utc":true},
{"year":2018,"month":1,"utc":true}]}},
"y":{"field":"prix","type":"quantitative",
"axis":{"orient":"right","domain":true,"domainColor":"#7f7f7f","domainWidth":2,"ticks":false,"labels":false,"grid":false,
"title":["Projection","du prix au m²","en janvier2018 :"],"titleAngle":0,"titleX":55,"titleY":-40,"titleAlign":"center","titleBaseline":"top","titleColor":"#4F81BD","titleFontWeight":"bold","titleFontSize":12,"titleLineHeight":14.5}}
}
},
{
"data":{"name":"annotations"},
"transform":[{"filter":"datum.groupe == 'ext' && datum.pos == 'haut'"}],
"mark":{"type":"text","dy":-8,"dx":5,"fontSize":11,"color":"#000000","baseline":"middle"},
"encoding":{
"x":{"field":"date","type":"temporal","scale":{"type":"utc"},
"axis":{"orient":"top","title":"Date de l'avant-contrat (mois et année)","titleX":292,"titleY":-68,"titleBaseline":"middle","titleFontSize":13,"titleFontWeight":"bold","titleColor":"#a6a6a6",
"domain":false,"grid":false,"ticks":true,"tickSize":51,"tickColor":"#a6a6a6","tickWidth":1.5,
"tickOpacity":{"condition":{"test":"utcdate(datum.value) != 10","value":1},"value":0},
"labelPadding":-8,"labelAngle":0,"labelAlign":"center","labelBaseline":"middle","labelFontSize":12.5,"labelColor":"#a6a6a6","labelOverlap":false,"labelFlush":false,
"labelExpr":"utcdate(datum.value) == 10 ? utcFormat(datum.value, '%Y') : ''",
"values":[{"year":2007,"month":2,"date":14,"utc":true},{"year":2007,"month":9,"date":10,"utc":true},{"year":2008,"month":3,"date":16,"utc":true},
{"year":2008,"month":9,"date":10,"utc":true},{"year":2009,"month":3,"date":16,"utc":true},
{"year":2009,"month":9,"date":10,"utc":true},{"year":2010,"month":3,"date":16,"utc":true},
{"year":2010,"month":9,"date":10,"utc":true},{"year":2011,"month":3,"date":16,"utc":true},
{"year":2011,"month":9,"date":10,"utc":true},{"year":2012,"month":3,"date":16,"utc":true},
{"year":2012,"month":9,"date":10,"utc":true},{"year":2013,"month":3,"date":16,"utc":true},
{"year":2013,"month":9,"date":10,"utc":true},{"year":2014,"month":3,"date":16,"utc":true},
{"year":2014,"month":9,"date":10,"utc":true},{"year":2015,"month":3,"date":16,"utc":true},
{"year":2015,"month":9,"date":10,"utc":true},{"year":2016,"month":3,"date":16,"utc":true},
{"year":2016,"month":9,"date":10,"utc":true},{"year":2017,"month":3,"date":16,"utc":true},
{"year":2017,"month":7,"date":10,"utc":true},{"year":2018,"month":1,"date":17,"utc":true}]}},
"y":{"field":"prix","type":"quantitative","axis":null},
"text":{"field":"label"}
}
},
{
"data":{"name":"annotations"},
"transform":[{"filter":"datum.groupe == 'ext' && datum.pos == 'bas'"}],
"mark":{"type":"text","dy":10,"dx":5,"fontSize":11,"color":"#000000","baseline":"middle"},
"encoding":{
"x":{"field":"date","type":"temporal","axis":null},
"y":{"field":"prix","type":"quantitative","axis":null},
"text":{"field":"label"}
}
},
{
"data":{"name":"annotations"},
"transform":[{"filter":"datum.groupe == 'fin' && datum.pos == 'haut'"}],
"mark":{"type":"text","dy":-9,"dx":2,"fontSize":11,"fontWeight":"bold","baseline":"middle"},
"encoding":{
"x":{"field":"date","type":"temporal","axis":null},
"y":{"field":"prix","type":"quantitative","axis":null},
"color":{"field":"serie","type":"nominal","legend":null},
"text":{"field":"label"}
}
},
{
"data":{"name":"annotations"},
"transform":[{"filter":"datum.groupe == 'fin' && datum.pos == 'bas'"}],
"mark":{"type":"text","dy":22,"dx":2,"fontSize":11,"fontWeight":"bold","baseline":"middle"},
"encoding":{
"x":{"field":"date","type":"temporal","axis":null},
"y":{"field":"prix","type":"quantitative","axis":null},
"color":{"field":"serie","type":"nominal","legend":null},
"text":{"field":"label"}
}
},
{
"data":{"name":"etiquettes"},
"transform":[{"filter":"datum.serie == 'Yvelines'"}],
"mark":{"type":"text","dx":10,"dy":-1,"align":"left","baseline":"middle","fontSize":11.5,"fontWeight":"bold","lineBreak":"\n","lineHeight":15},
"encoding":{
"x":{"field":"date","type":"temporal","axis":null},
"y":{"field":"prix","type":"quantitative","axis":null},
"color":{"field":"serie","type":"nominal","legend":null},
"text":{"field":"texte"}
}
},
{
"data":{"name":"etiquettes"},
"transform":[{"filter":"datum.serie == 'Grande Couronne'"}],
"mark":{"type":"text","dx":10,"dy":-10,"align":"left","baseline":"middle","fontSize":11.5,"fontWeight":"bold","lineBreak":"\n","lineHeight":15},
"encoding":{
"x":{"field":"date","type":"temporal","axis":null},
"y":{"field":"prix","type":"quantitative","axis":null},
"color":{"field":"serie","type":"nominal","legend":null},
"text":{"field":"texte"}
}
},
{
"data":{"name":"etiquettes"},
"transform":[{"filter":"datum.serie == 'Seine-et-Marne'"}],
"mark":{"type":"text","dx":10,"dy":-15,"align":"left","baseline":"middle","fontSize":11.5,"fontWeight":"bold","lineBreak":"\n","lineHeight":15},
"encoding":{
"x":{"field":"date","type":"temporal","axis":null},
"y":{"field":"prix","type":"quantitative","axis":null},
"color":{"field":"serie","type":"nominal","legend":null},
"text":{"field":"texte"}
}
},
{
"data":{"name":"etiquettes"},
"transform":[{"filter":"datum.serie == 'Essonne'"}],
"mark":{"type":"text","dx":10,"dy":11,"align":"left","baseline":"middle","fontSize":11.5,"fontWeight":"bold","lineBreak":"\n","lineHeight":15},
"encoding":{
"x":{"field":"date","type":"temporal","axis":null},
"y":{"field":"prix","type":"quantitative","axis":null},
"color":{"field":"serie","type":"nominal","legend":null},
"text":{"field":"texte"}
}
}
]
}
